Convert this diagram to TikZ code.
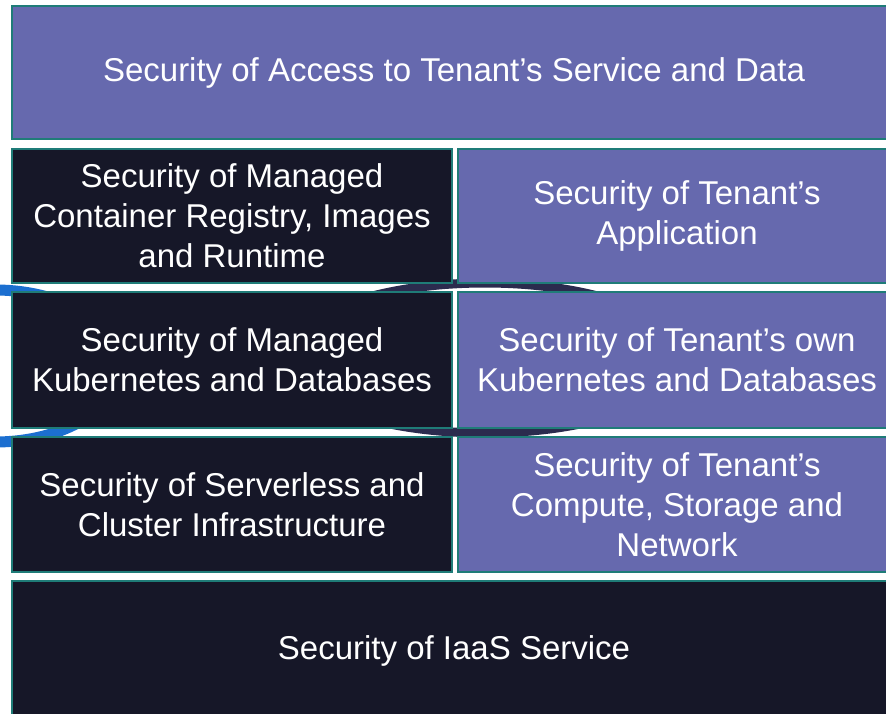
\documentclass[tikz,border=0pt]{standalone}
\usepackage{fontspec}
\setmainfont{Liberation Sans}
\definecolor{purp}{HTML}{6669AE}
\definecolor{navy}{HTML}{161728}
\definecolor{edge}{HTML}{1F7C78}
\definecolor{ringdark}{HTML}{2B2B4E}
\definecolor{ringblue}{HTML}{1C6FD0}
\begin{document}
\begin{tikzpicture}[x=1pt,y=-1pt,
  tile/.style={anchor=north west, inner sep=0pt, outer sep=0pt, draw=edge, line width=1.6pt,
    text=white, align=center, font=\fontsize{33}{40}\selectfont},
  darktile/.style={tile, fill=navy},
  lighttile/.style={tile, fill=purp}]
\useasboundingbox (0,0) rectangle (886,714);
\clip (0,0) rectangle (886,714);
% background artwork glimpsed between the tiles
\draw[ringdark, line width=9pt] (485,358) ellipse [x radius=200, y radius=75];
\draw[ringblue, line width=11pt] (-5,366) ellipse [x radius=125, y radius=76];
% tiles
\node[lighttile, minimum width=884pt, minimum height=133pt] (access) at (12,6)
  {Security of Access to Tenant’s Service and Data};
\node[darktile, minimum width=440pt, minimum height=134pt] (registry) at (12,149)
  {Security of Managed\\Container Registry, Images\\and Runtime};
\node[lighttile, minimum width=438pt, minimum height=134pt] (app) at (458,149)
  {Security of Tenant’s\\Application};
\node[darktile, minimum width=440pt, minimum height=136pt] (mk8s) at (12,292)
  {Security of Managed\\Kubernetes and Databases};
\node[lighttile, minimum width=438pt, minimum height=136pt] (ownk8s) at (458,292)
  {Security of Tenant’s own\\Kubernetes and Databases};
\node[darktile, minimum width=440pt, minimum height=135pt] (serverless) at (12,437)
  {Security of Serverless and\\Cluster Infrastructure};
\node[lighttile, minimum width=438pt, minimum height=135pt] (compute) at (458,437)
  {Security of Tenant’s\\Compute, Storage and\\Network};
\node[darktile, minimum width=884pt, minimum height=139pt] (iaas) at (12,581)
  {Security of IaaS Service};
\end{tikzpicture}
\end{document}
